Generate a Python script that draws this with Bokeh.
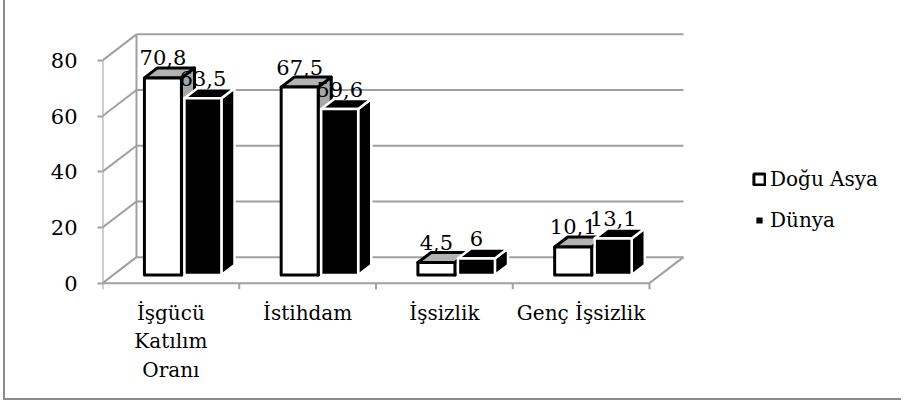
from bokeh.plotting import figure
from bokeh.models import ColumnDataSource, FixedTicker, Legend, LegendItem, Range1d
from bokeh.embed import file_html
from bokeh.resources import INLINE
from bokeh.core.properties import value

# ---------------- data ----------------
categories = ["İşgücü\nKatılım\nOranı", "İstihdam", "İşsizlik", "Genç İşsizlik"]
dogu_asya = [70.8, 67.5, 4.5, 10.1]
dunya = [63.5, 59.6, 6.0, 13.1]
dogu_labels = ["70,8", "67,5", "4,5", "10,1"]
dunya_labels = ["63,5", "59,6", "6", "13,1"]
y_ticks = [0, 20, 40, 60, 80]
series_names = ["Doğu Asya", "Dünya"]

# ---------------- layout / style ----------------
W, H = 898, 400
FONT = "DejaVu Serif"
CAT_PX = 136.75          # pixels per category on the front plane
VAL_PX = 2.7875          # pixels per value unit
FRAME_LEFT = 97
FRAME_TOP = 32
Y0, Y1 = -3, 90
frame_h = round((Y1 - Y0) * VAL_PX)
frame_w = W - FRAME_LEFT
X1 = frame_w / CAT_PX

DX = 34 / CAT_PX         # wall depth (x)
DY = 26 / VAL_PX         # wall depth (y)
F = 0.31                 # bar front plane depth fraction
G = 0.385                # bar depth fraction
BW = 37 / CAT_PX         # bar width
GAP = 3 / CAT_PX
GRID = "#a0a0a0"
n = len(categories)
ymax = max(y_ticks)

p = figure(width=W, height=H, output_backend="svg", toolbar_location=None,
           x_range=Range1d(0, X1), y_range=Range1d(Y0, Y1),
           min_border_left=FRAME_LEFT, min_border_right=0,
           min_border_top=FRAME_TOP, min_border_bottom=H - FRAME_TOP - frame_h)
p.outline_line_color = None
p.xgrid.visible = False
p.ygrid.visible = False
p.background_fill_color = "white"
p.border_fill_color = "white"

# ---------------- walls ----------------
xs, ys = [], []
for v in y_ticks:
    xs.append([0, DX]); ys.append([v, v + DY])
    xs.append([DX, n + DX]); ys.append([v + DY, v + DY])
xs.append([0, 0]); ys.append([0, ymax])
xs.append([DX, DX]); ys.append([DY, ymax + DY])
xs.append([0, n]); ys.append([0, 0])
xs.append([n, n + DX]); ys.append([0, DY])
p.multi_line(xs=xs, ys=ys, line_color=GRID, line_width=2)
p.segment(x0=list(range(n + 1)), y0=[0] * (n + 1), x1=list(range(n + 1)),
          y1=[-6 / VAL_PX] * (n + 1), line_color=GRID, line_width=2)

# ---------------- bars ----------------
bdx, bdy = G * DX, G * DY
yb = F * DY
sh = F * DX


def bar_faces(x0s, vals):
    fx, fy, tx, ty, sx, sy = [], [], [], [], [], []
    for x0, v in zip(x0s, vals):
        x1 = x0 + BW
        yt = yb + v
        fx.append([x0, x1, x1, x0]); fy.append([yb, yb, yt, yt])
        tx.append([x0, x1, x1 + bdx, x0 + bdx]); ty.append([yt, yt, yt + bdy, yt + bdy])
        sx.append([x1, x1 + bdx, x1 + bdx, x1]); sy.append([yb, yb + bdy, yt + bdy, yt])
    return fx, fy, tx, ty, sx, sy


white_x0 = [i + 0.5 + sh - BW for i in range(n)]
black_x0 = [i + 0.5 + sh + GAP for i in range(n)]

fx, fy, tx, ty, sx, sy = bar_faces(white_x0, dogu_asya)
p.patches(xs=sx, ys=sy, fill_color="#a6a6a6", line_color="black", line_width=3, line_join="round")
p.patches(xs=tx, ys=ty, fill_color="#b3b3b3", line_color="black", line_width=3, line_join="round")
p.patches(xs=fx, ys=fy, fill_color="white", line_color="black", line_width=3, line_join="round")

fx, fy, tx, ty, sx, sy = bar_faces(black_x0, dunya)
p.patches(xs=sx, ys=sy, fill_color="black", line_color="white", line_width=2.5, line_join="round")
p.patches(xs=tx, ys=ty, fill_color="black", line_color="white", line_width=2.5, line_join="round")
p.patches(xs=fx, ys=fy, fill_color="black", line_color="white", line_width=2.5, line_join="round")

# ---------------- value labels ----------------
lab_off = 10 / VAL_PX
lx = [x + BW / 2 for x in white_x0] + [x + BW / 2 for x in black_x0]
ly = [yb + v + bdy + lab_off for v in dogu_asya] + [yb + v + bdy + lab_off for v in dunya]
lt = dogu_labels + dunya_labels
p.text(x=lx, y=ly, text=lt, text_align="center", text_baseline="alphabetic",
       text_font=value(FONT), text_font_size="21px", text_color="black")

# ---------------- axes ----------------
p.yaxis.ticker = FixedTicker(ticks=y_ticks)
p.yaxis.axis_line_color = None
p.yaxis.major_tick_line_color = GRID
p.yaxis.major_tick_line_width = 2
p.yaxis.major_tick_out = 5
p.yaxis.major_tick_in = 0
p.yaxis.minor_tick_line_color = None
p.yaxis.major_label_standoff = 20
p.yaxis.major_label_text_font = FONT
p.yaxis.major_label_text_font_size = "21px"
p.yaxis.major_label_text_color = "black"

centers = [i + 0.5 for i in range(n)]
p.xaxis.ticker = FixedTicker(ticks=centers)
p.xaxis.major_label_overrides = {c: lab for c, lab in zip(centers, categories)}
p.xaxis.axis_line_color = None
p.xaxis.major_tick_line_color = None
p.xaxis.minor_tick_line_color = None
p.xaxis.major_tick_out = 0
p.xaxis.major_label_standoff = 9
p.xaxis.major_label_text_font = FONT
p.xaxis.major_label_text_font_size = "20px"
p.xaxis.major_label_text_line_height = 1.2
p.xaxis.major_label_text_color = "black"

# ---------------- legend ----------------
nan = float("nan")
dummy = dict(left=[nan], right=[nan], top=[nan], bottom=[nan])
r1 = p.quad(source=ColumnDataSource(dummy), left="left", right="right", top="top", bottom="bottom",
            fill_color="white", line_color="black", line_width=3)
r2 = p.quad(source=ColumnDataSource(dict(dummy)), left="left", right="right", top="top", bottom="bottom",
            fill_color="black", line_color="white", line_width=5)
legend = Legend(items=[LegendItem(label=series_names[0], renderers=[r1]),
                       LegendItem(label=series_names[1], renderers=[r2])],
                location=(650, 58), orientation="vertical",
                glyph_width=14, glyph_height=14, label_standoff=4, spacing=14,
                label_height=27, padding=0, margin=0,
                border_line_color=None, background_fill_alpha=0,
                label_text_font=FONT, label_text_font_size="20px", label_text_color="black")
p.add_layout(legend)

p.styles = {"margin-left": "3px", "border-left": "2px solid #8c8c8c",
            "border-bottom": "2px solid #8c8c8c"}

open("out.html", "w").write(file_html(p, INLINE))
